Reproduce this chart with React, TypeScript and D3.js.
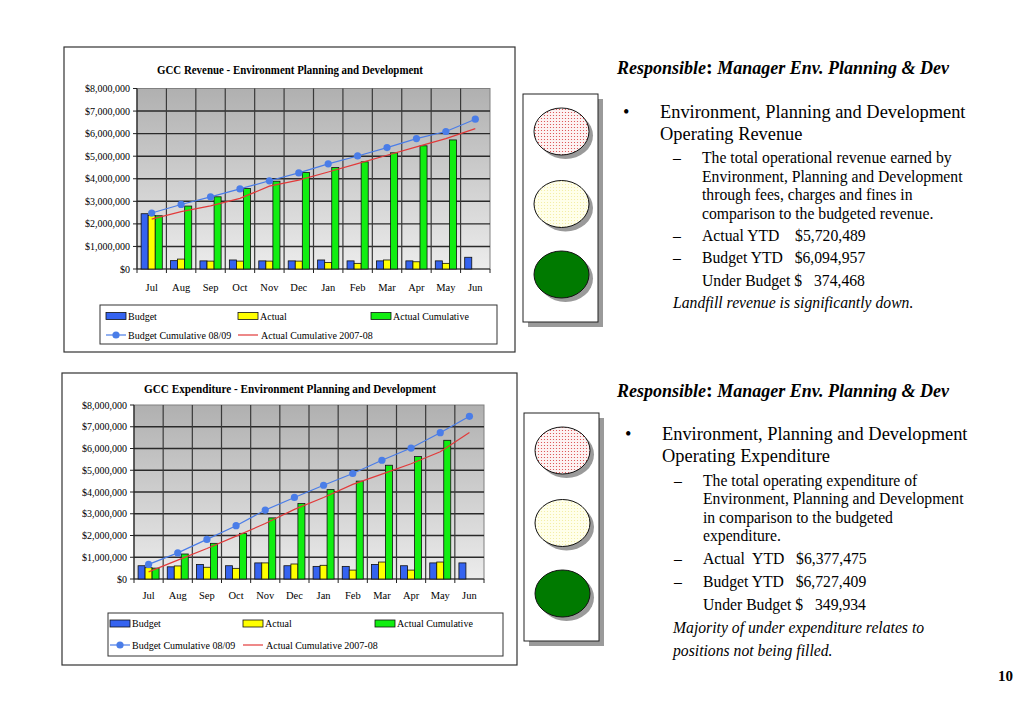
import React from "react";
import * as d3 from "d3";

const months = ["Jul", "Aug", "Sep", "Oct", "Nov", "Dec", "Jan", "Feb", "Mar", "Apr", "May", "Jun"];
const yTicks = [0, 1000000, 2000000, 3000000, 4000000, 5000000, 6000000, 7000000, 8000000];

// Revenue (top chart)
const revBudget = [2450000, 370000, 360000, 400000, 360000, 360000, 400000, 360000, 360000, 360000, 360000, 520000];
const revActual = [2370000, 440000, 350000, 350000, 350000, 350000, 290000, 250000, 400000, 320000, 250000, null];
const revActualCum = [2360000, 2790000, 3200000, 3570000, 3890000, 4280000, 4500000, 4750000, 5150000, 5460000, 5720489, null];
const revBudgetCum = [2480000, 2860000, 3200000, 3550000, 3910000, 4260000, 4660000, 5010000, 5380000, 5780000, 6094957, 6640000];
const revActualCumPrev = [2210000, 2540000, 2800000, 3130000, 3670000, 3940000, 4300000, 4670000, 5040000, 5410000, 5780000, 6220000];

// Expenditure (bottom chart)
const expBudget = [610000, 560000, 670000, 610000, 740000, 610000, 580000, 580000, 670000, 610000, 740000, 740000];
const expActual = [520000, 600000, 540000, 490000, 740000, 690000, 630000, 410000, 780000, 410000, 780000, null];
const expActualCum = [500000, 1150000, 1640000, 2100000, 2810000, 3470000, 4110000, 4500000, 5230000, 5630000, 6377475, null];
const expBudgetCum = [670000, 1200000, 1820000, 2450000, 3170000, 3750000, 4310000, 4850000, 5460000, 6020000, 6727409, 7480000];
const expActualCumPrev = [330000, 870000, 1400000, 1970000, 2550000, 3200000, 3750000, 4350000, 4820000, 5300000, 5850000, 6730000];

const legendBars = ["Budget", "Actual", "Actual Cumulative"];
const legendLines = ["Budget Cumulative 08/09", "Actual Cumulative 2007-08"];

const BLUE = "#3563f0";
const YELLOW = "#ffff00";
const GREEN = "#11ee11";
const LINE_BLUE = "#4a7de8";
const LINE_RED = "#e23a3a";
const SERIF = "'Liberation Serif', 'Times New Roman', serif";

type ChartProps = {
  id: string;
  title: string;
  titleWidth: number;
  titleX: number;
  frame: [number, number, number, number];
  plot: [number, number, number, number];
  titleY: number;
  tickRight: number;
  monthY: number;
  legend: { x: number; y: number; w: number; h: number; cols: number[]; row1: number; row2: number };
  budget: (number | null)[];
  actual: (number | null)[];
  actualCum: (number | null)[];
  budgetCum: number[];
  prevCum: number[];
};

function Chart(p: ChartProps) {
  const [pl, pt, pr, pb] = p.plot;
  const x = d3.scaleBand<string>().domain(months).range([pl, pr]).padding(0);
  const bw = x.bandwidth();
  const inner = d3.scaleBand<string>().domain(legendBars).range([bw * 0.14, bw * 0.86]).padding(0);
  const y = d3.scaleLinear().domain([0, 8000000]).range([pb, pt]);
  const fmt = (v: number) => "$" + d3.format(",")(v);
  const cx = (m: string) => (x(m) as number) + bw / 2;
  const line = d3
    .line<number>()
    .x((_, i) => cx(months[i]))
    .y((d) => y(d));
  const series: [string, (number | null)[], string][] = [
    ["Budget", p.budget, BLUE],
    ["Actual", p.actual, YELLOW],
    ["Actual Cumulative", p.actualCum, GREEN],
  ];
  const [fx, fy, fw, fh] = p.frame;
  const L = p.legend;
  const swW = 20;
  return (
    <g>
      <defs>
        <linearGradient id={p.id + "bg"} x1="0" y1="0" x2="0" y2="1">
          <stop offset="0%" stopColor="#b0b0b0" />
          <stop offset="100%" stopColor="#ececec" />
        </linearGradient>
      </defs>
      <rect x={fx} y={fy} width={fw} height={fh} fill="#fff" stroke="#333" strokeWidth={1.2} />
      <text
        x={p.titleX - p.titleWidth / 2}
        y={p.titleY}
        textLength={p.titleWidth}
        lengthAdjust="spacingAndGlyphs"
        fontFamily={SERIF}
        fontWeight="bold"
        fontSize={12}
      >
        {p.title}
      </text>
      <rect x={pl} y={pt} width={pr - pl} height={pb - pt} fill={`url(#${p.id}bg)`} stroke="#808080" strokeWidth={1} />
      {yTicks.slice(1, -1).map((t) => (
        <line key={"h" + t} x1={pl} x2={pr} y1={y(t)} y2={y(t)} stroke="#2a2a2a" strokeWidth={1.4} />
      ))}
      {months.slice(1).map((m) => (
        <line key={"v" + m} x1={x(m)} x2={x(m)} y1={pt} y2={pb} stroke="#3a3a3a" strokeWidth={1.2} />
      ))}
      <line x1={pl} x2={pl} y1={pt} y2={pb} stroke="#222" strokeWidth={1.2} />
      <line x1={pl} x2={pr} y1={pb} y2={pb} stroke="#222" strokeWidth={1.2} />
      {yTicks.map((t) => (
        <g key={"t" + t}>
          <line x1={pl - 4} x2={pl} y1={y(t)} y2={y(t)} stroke="#222" />
          <text x={p.tickRight} y={y(t) + 3.5} textAnchor="end" fontFamily={SERIF} fontSize={10}>
            {fmt(t)}
          </text>
        </g>
      ))}
      {months.map((m) => (
        <g key={"m" + m}>
          <line x1={(x(m) as number) + bw} x2={(x(m) as number) + bw} y1={pb} y2={pb + 4} stroke="#222" />
          <text x={cx(m)} y={p.monthY} textAnchor="middle" fontFamily={SERIF} fontSize={10.5}>
            {m}
          </text>
        </g>
      ))}
      <line x1={pl} x2={pl} y1={pb} y2={pb + 4} stroke="#222" />
      {series.map(([name, vals, col]) =>
        vals.map((v, i) =>
          v == null ? null : (
            <rect
              key={name + i}
              x={(x(months[i]) as number) + (inner(name) as number)}
              y={y(v)}
              width={inner.bandwidth()}
              height={pb - y(v)}
              fill={col}
              stroke="#111"
              strokeWidth={0.8}
            />
          )
        )
      )}
      <path d={line(p.prevCum) as string} fill="none" stroke={LINE_RED} strokeWidth={1.2} />
      <path d={line(p.budgetCum) as string} fill="none" stroke={LINE_BLUE} strokeWidth={1.2} />
      {p.budgetCum.map((v, i) => (
        <circle key={"c" + i} cx={cx(months[i])} cy={y(v)} r={3.6} fill={LINE_BLUE} />
      ))}
      <rect x={L.x} y={L.y} width={L.w} height={L.h} fill="#fff" stroke="#333" strokeWidth={1} />
      {legendBars.map((name, i) => (
        <g key={"lb" + name}>
          <rect x={L.cols[i]} y={L.row1 - 3.5} width={swW} height={7} fill={series[i][2]} stroke="#111" strokeWidth={0.8} />
          <text x={L.cols[i] + swW + 2} y={L.row1 + 3.5} fontFamily={SERIF} fontSize={10}>
            {name}
          </text>
        </g>
      ))}
      <line x1={L.cols[0]} x2={L.cols[0] + swW} y1={L.row2} y2={L.row2} stroke={LINE_BLUE} strokeWidth={1.2} />
      <circle cx={L.cols[0] + swW / 2} cy={L.row2} r={3.6} fill={LINE_BLUE} />
      <text x={L.cols[0] + swW + 2} y={L.row2 + 3.5} fontFamily={SERIF} fontSize={10}>
        {legendLines[0]}
      </text>
      <line x1={L.cols[1]} x2={L.cols[1] + swW} y1={L.row2} y2={L.row2} stroke={LINE_RED} strokeWidth={1.2} />
      <text x={L.cols[1] + swW + 3} y={L.row2 + 3.5} fontFamily={SERIF} fontSize={10}>
        {legendLines[1]}
      </text>
    </g>
  );
}

function TrafficLight({ x, y }: { x: number; y: number }) {
  const w = 75;
  const h = 228;
  const lx = x + 38.5;
  const lights = [
    { cy: y + 37.5, fill: "url(#redDots)" },
    { cy: y + 110, fill: "url(#yelDots)" },
    { cy: y + 180.5, fill: "#007a00" },
  ];
  return (
    <g>
      <rect x={x + 5} y={y + 5} width={w} height={h} fill="#9a9a9a" />
      <rect x={x} y={y} width={w} height={h} fill="#fff" stroke="#222" strokeWidth={1} />
      {lights.map((l, i) => (
        <g key={i}>
          <ellipse cx={lx + 4} cy={l.cy + 4} rx={27.5} ry={23.5} fill="#9a9a9a" />
          <ellipse cx={lx} cy={l.cy} rx={27.5} ry={23.5} fill={l.fill} stroke="#111" strokeWidth={1} />
        </g>
      ))}
    </g>
  );
}

type Line = { x: number; y: number; text: React.ReactNode; size: number; italic?: boolean; bold?: boolean };

function TextBlock({ lines }: { lines: Line[] }) {
  return (
    <g>
      {lines.map((l, i) => (
        <text
          key={i}
          x={l.x}
          y={l.y}
          fontFamily={SERIF}
          fontSize={l.size}
          fontStyle={l.italic ? "italic" : "normal"}
          fontWeight={l.bold ? "bold" : "normal"}
          style={{ whiteSpace: "pre" }}
        >
          {l.text}
        </text>
      ))}
    </g>
  );
}

function responsible(y: number): Line {
  return {
    x: 617,
    y,
    size: 18,
    bold: true,
    italic: true,
    text: (
      <>
        <tspan>Responsible</tspan>
        <tspan fontStyle="normal" fontSize={20}>:</tspan>
        <tspan> Manager Env. Planning &amp; Dev</tspan>
      </>
    ),
  };
}

const S1 = 18.4;
const S2 = 15.7;

export default function App() {
  const topLines: Line[] = [
    responsible(74),
    { x: 623, y: 118, size: S1, text: "•" },
    { x: 660, y: 118, size: S1, text: "Environment, Planning and Development" },
    { x: 660, y: 140, size: S1, text: "Operating Revenue" },
    { x: 673, y: 163, size: S2, text: "–" },
    { x: 702, y: 163, size: S2, text: "The total operational revenue earned by" },
    { x: 702, y: 181.5, size: S2, text: "Environment, Planning and Development" },
    { x: 702, y: 200, size: S2, text: "through fees, charges and fines in" },
    { x: 702, y: 218.5, size: S2, text: "comparison to the budgeted revenue." },
    { x: 673, y: 240.5, size: S2, text: "–" },
    { x: 702, y: 240.5, size: S2, text: "Actual YTD    $5,720,489" },
    { x: 673, y: 263, size: S2, text: "–" },
    { x: 702, y: 263, size: S2, text: "Budget YTD   $6,094,957" },
    { x: 702, y: 286, size: S2, text: "Under Budget $   374,468" },
    { x: 673, y: 308, size: S2, italic: true, text: "Landfill revenue is significantly down." },
  ];
  const botLines: Line[] = [
    responsible(396.5),
    { x: 625, y: 440, size: S1, text: "•" },
    { x: 662, y: 440, size: S1, text: "Environment, Planning and Development" },
    { x: 662, y: 462, size: S1, text: "Operating Expenditure" },
    { x: 674, y: 485.5, size: S2, text: "–" },
    { x: 703, y: 485.5, size: S2, text: "The total operating expenditure of" },
    { x: 703, y: 504, size: S2, text: "Environment, Planning and Development" },
    { x: 703, y: 522.5, size: S2, text: "in comparison to the budgeted" },
    { x: 703, y: 541, size: S2, text: "expenditure." },
    { x: 674, y: 563.5, size: S2, text: "–" },
    { x: 703, y: 563.5, size: S2, text: "Actual  YTD   $6,377,475" },
    { x: 674, y: 587, size: S2, text: "–" },
    { x: 703, y: 587, size: S2, text: "Budget YTD   $6,727,409" },
    { x: 703, y: 610, size: S2, text: "Under Budget $   349,934" },
    { x: 673, y: 633, size: S2, italic: true, text: "Majority of under expenditure relates to" },
    { x: 673, y: 656, size: S2, italic: true, text: "positions not being filled." },
  ];
  return (
    <svg width={1023} height={708} style={{ position: "absolute", left: 0, top: 0, background: "#fff" }}>
      <defs>
        <pattern id="redDots" width="3" height="3" patternUnits="userSpaceOnUse">
          <rect width="3" height="3" fill="#fdf2f2" />
          <circle cx="1.5" cy="1.5" r="0.6" fill="#d84040" />
        </pattern>
        <pattern id="yelDots" width="3" height="3" patternUnits="userSpaceOnUse">
          <rect width="3" height="3" fill="#ffffea" />
          <circle cx="1.5" cy="1.5" r="0.55" fill="#f2ec9a" />
        </pattern>
      </defs>
      <rect width={1023} height={708} fill="#fff" />
      <Chart
        id="rev"
        title="GCC Revenue - Environment Planning and Development"
        titleWidth={266}
        titleX={290}
        frame={[64, 47, 451, 305]}
        plot={[137, 88.5, 490, 269]}
        titleY={74}
        tickRight={130}
        monthY={291}
        legend={{ x: 100, y: 305, w: 397, h: 39, cols: [106, 238, 371], row1: 316, row2: 335 }}
        budget={revBudget}
        actual={revActual}
        actualCum={revActualCum}
        budgetCum={revBudgetCum}
        prevCum={revActualCumPrev}
      />
      <Chart
        id="exp"
        title="GCC Expenditure - Environment Planning and Development"
        titleWidth={292}
        titleX={290}
        frame={[62, 373, 455, 292]}
        plot={[134, 405, 484, 579]}
        titleY={393}
        tickRight={127}
        monthY={599}
        legend={{ x: 108, y: 613, w: 395, h: 43, cols: [110, 243, 375], row1: 623.5, row2: 645 }}
        budget={expBudget}
        actual={expActual}
        actualCum={expActualCum}
        budgetCum={expBudgetCum}
        prevCum={expActualCumPrev}
      />
      <TrafficLight x={523} y={94} />
      <TrafficLight x={524} y={413} />
      <TextBlock lines={topLines} />
      <TextBlock lines={botLines} />
      <text x={1013} y={681} textAnchor="end" fontFamily={SERIF} fontWeight="bold" fontSize={15}>
        10
      </text>
    </svg>
  );
}
